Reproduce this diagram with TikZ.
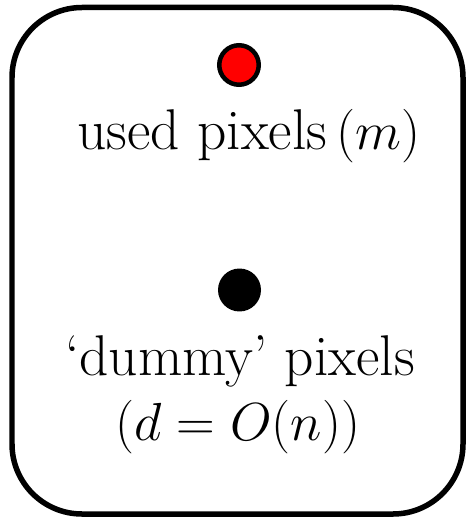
\RequirePackage{fix-cm}
\documentclass[tikz,border=0pt]{standalone}
\usetikzlibrary{positioning}
\tikzset{
  pixdot/.style={circle, inner sep=0pt, minimum size=0.79cm},
  pixtext/.style={font=\fontsize{32.7}{40}\selectfont, inner sep=0pt, anchor=base},
  pixmath/.style={font=\fontsize{30.5}{36}\selectfont, inner sep=0pt, anchor=base}
}
\begin{document}
\begin{tikzpicture}[x=0.02cm, y=-0.02cm]
    \useasboundingbox (0,0) rectangle (466,520);
    % Box
    \draw[line width=0.11cm, rounded corners=1.4cm] (12,7.5) rectangle (463,514);
    % Used pixels
    \node[pixdot, fill=red, draw=black, line width=0.09cm] (used) at (239,65) {};
    \node[pixtext] (usedlabel) at (249,150) {used pixels\,{\fontsize{30.5}{36}\selectfont$(m)$}};
    % Dummy pixels
    \node[pixdot, fill=black, minimum size=0.86cm] (dummy) at (239.5,290) {};
    \node[pixtext] (dummylabel) at (240,375) {`dummy' pixels};
    \node[pixmath] (dummysize) at (238,440) {$(d = O(n))$};
\end{tikzpicture}
\end{document}
